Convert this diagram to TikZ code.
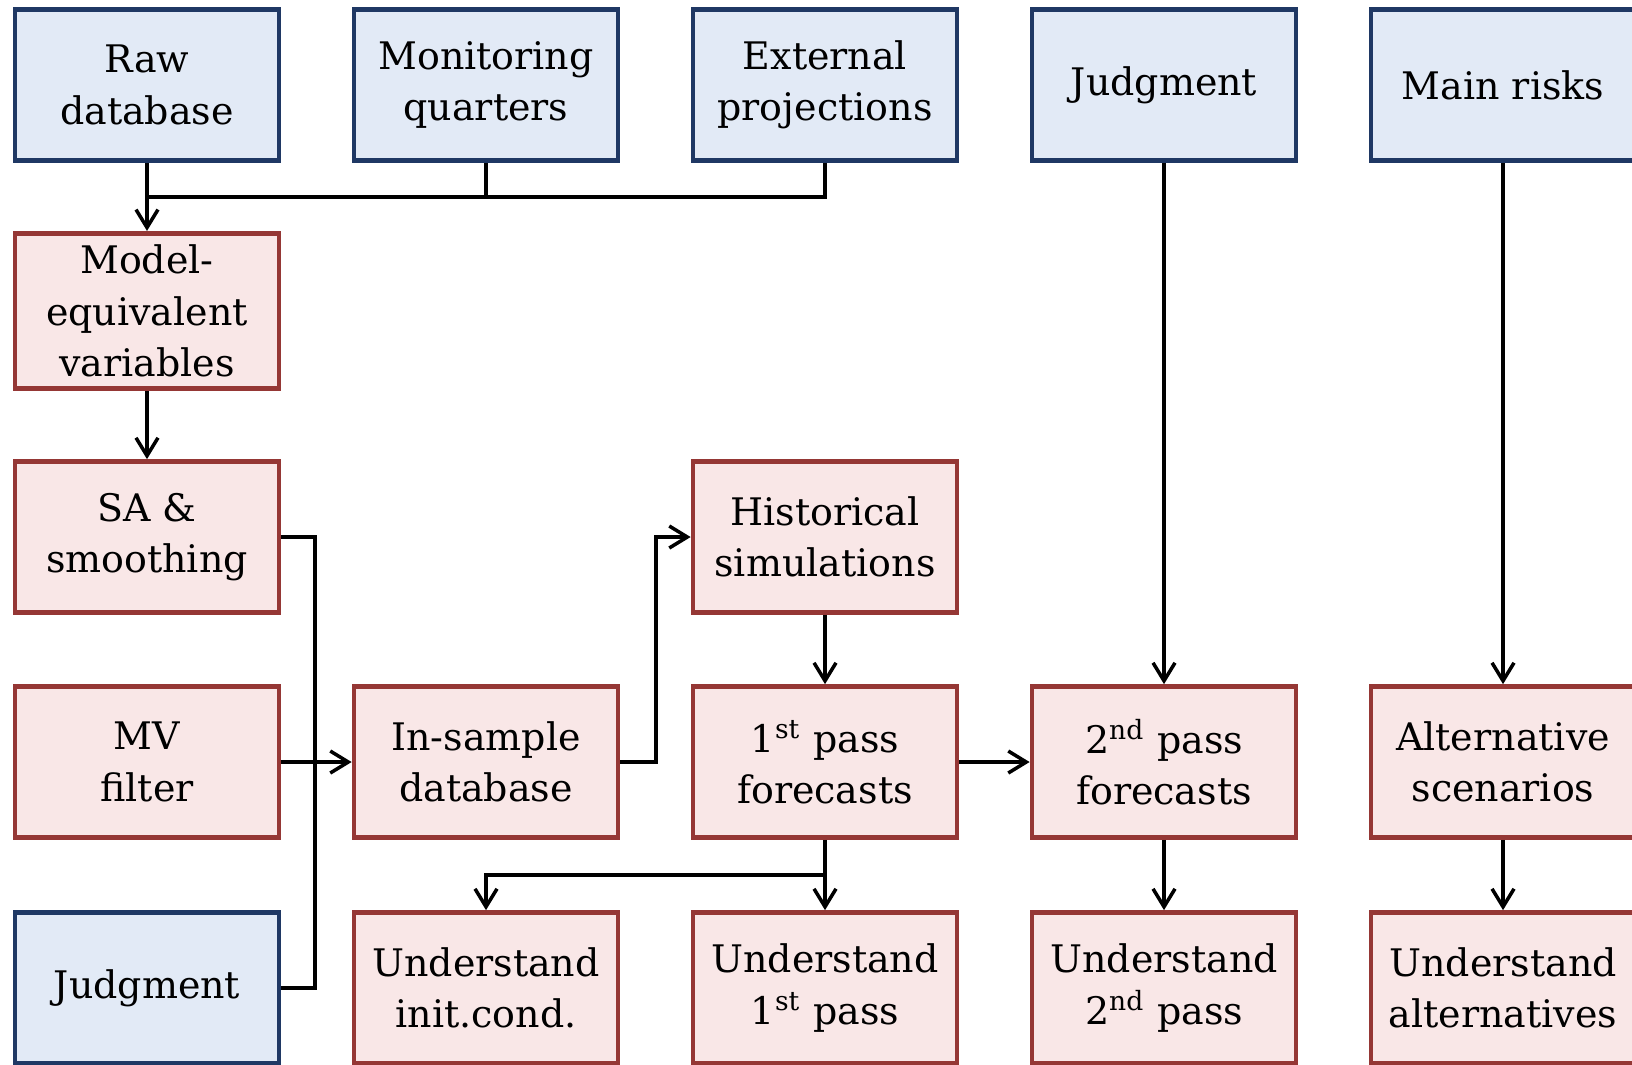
\documentclass[tikz,border=0pt]{standalone}
\usepackage{fontspec}
\setmainfont{DejaVu Serif}
\usetikzlibrary{arrows.meta}
\definecolor{inblue}{RGB}{226,234,246}
\definecolor{edblue}{RGB}{31,56,100}
\definecolor{inred}{RGB}{249,231,231}
\definecolor{edred}{RGB}{149,55,53}
\tikzset{>={Straight Barb[length=1.8mm,width=2.2mm]},
  box/.style={draw,line width=1.35pt,minimum width=2.64cm,minimum height=1.51cm,align=center,font=\fontsize{10.8}{14.6}\selectfont},
  inbox/.style={box,draw=edblue,fill=inblue},
  workbox/.style={box,draw=edred,fill=inred},
  flow/.style={line width=1pt,->},link/.style={line width=1pt}}

\begin{document}
\begin{tikzpicture}
\useasboundingbox (0,0) rectangle (16.32,-10.64);
% inputs
\node[inbox] (raw) at (1.47,-.85){Raw\\database};
\node[inbox] (mon) at (4.86,-.85){Monitoring\\quarters};
\node[inbox] (ext) at (8.25,-.85){External\\projections};
\node[inbox] (judgetop) at (11.64,-.85){Judgment};
\node[inbox] (risks) at (15.03,-.85){Main risks};
% data preparation
\node[workbox] (modeq) at (1.47,-3.11){Model-\\equivalent\\variables};
\node[workbox] (sa) at (1.47,-5.37){SA \&\\smoothing};
\node[workbox] (hist) at (8.25,-5.37){Historical\\simulations};
\node[workbox] (mv) at (1.47,-7.62){MV\\filter};
\node[workbox] (insample) at (4.86,-7.62){In-sample\\database};
\node[workbox] (pass1) at (8.25,-7.62){1\textsuperscript{st} pass\\forecasts};
\node[workbox] (pass2) at (11.64,-7.62){2\textsuperscript{nd} pass\\forecasts};
\node[workbox] (alt) at (15.03,-7.62){Alternative\\scenarios};
% bottom row
\node[inbox] (judgebot) at (1.47,-9.88){Judgment};
\node[workbox] (uinit) at (4.86,-9.88){Understand\\init.cond.};
\node[workbox] (upass1) at (8.25,-9.88){Understand\\1\textsuperscript{st} pass};
\node[workbox] (upass2) at (11.64,-9.88){Understand\\2\textsuperscript{nd} pass};
\node[workbox] (ualt) at (15.03,-9.88){Understand\\alternatives};
% connectors
\coordinate (merge) at (1.47,-1.97);
\coordinate (bus) at (3.15,-7.62);
\coordinate (hup) at (6.56,-7.62);
\coordinate (split) at (8.25,-8.75);
\draw[link] (ext.south) |- (merge);\draw[link] (mon.south) -- (mon.south |- merge);
\draw[flow] (raw.south) -- (modeq.north);
\draw[flow] (modeq) -- (sa);
\draw[link] (sa.east) -| (bus) |- (judgebot.east);
\draw[flow] (mv) -- (insample);
\draw[flow] (insample.east) -| (hup) |- (hist.west);
\draw[flow] (hist) -- (pass1);
\draw[flow] (pass1) -- (pass2);
\draw[flow] (pass1.south) -- (upass1.north);
\draw[flow] (split) -| (uinit.north);
\draw[flow] (judgetop) -- (pass2);
\draw[flow] (risks) -- (alt);
\draw[flow] (pass2) -- (upass2);
\draw[flow] (alt) -- (ualt);
\end{tikzpicture}
\end{document}
